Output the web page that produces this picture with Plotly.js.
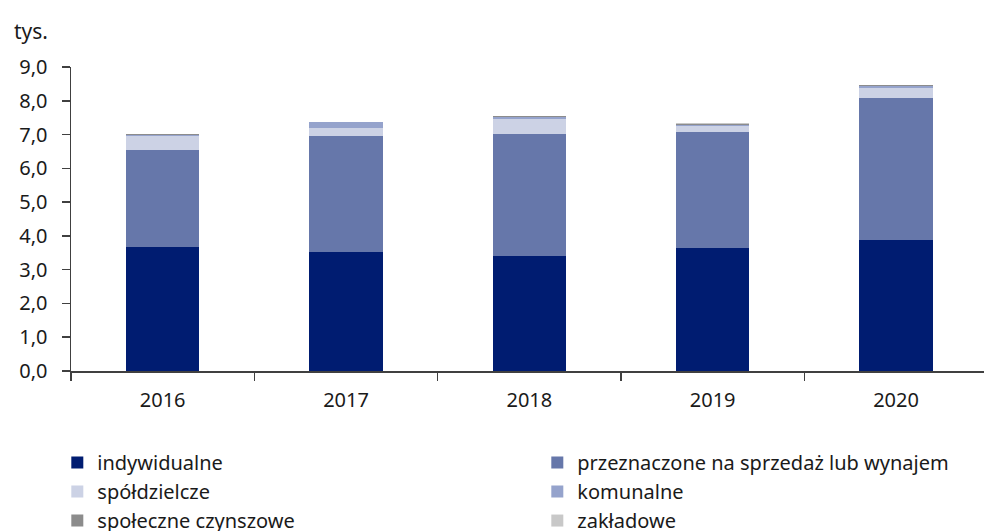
<!DOCTYPE html>
<html>
<head>
<meta charset="utf-8">
<script src="https://cdn.plot.ly/plotly-3.0.1.min.js"></script>
<style>html,body{margin:0;padding:0;background:#fff;}#chart{width:984px;height:531px;}</style>
</head>
<body>
<div id="chart"></div>
<script>
var years = ['2016', '2017', '2018', '2019', '2020'];
var indywidualne = [3.68, 3.53, 3.40, 3.64, 3.88];
var przeznaczone = [2.86, 3.44, 3.63, 3.44, 4.21];
var spoldzielcze = [0.43, 0.22, 0.42, 0.17, 0.30];
var komunalne = [0.01, 0.17, 0.08, 0.02, 0.05];
var spoleczne = [0.04, 0.01, 0.02, 0.05, 0.03];
var zakladowe = [0.01, 0.01, 0.01, 0.01, 0.01];
var yTicks = [0, 1, 2, 3, 4, 5, 6, 7, 8, 9];

var seriesNames = ['indywidualne', 'przeznaczone na sprzedaż lub wynajem', 'spółdzielcze', 'komunalne', 'społeczne czynszowe', 'zakładowe'];
var seriesValues = [indywidualne, przeznaczone, spoldzielcze, komunalne, spoleczne, zakladowe];
var seriesColors = ['#001C71', '#6677AA', '#CCD2E5', '#95A3CC', '#8C8C8C', '#C8C8C8'];

var font = 'Noto Sans, Open Sans, sans-serif';
var traces = seriesNames.map(function (n, i) {
  return {
    type: 'bar', name: n, x: years, y: seriesValues[i],
    marker: {color: seriesColors[i], line: {width: 0}},
    hoverinfo: 'skip'
  };
});

var layout = {
  width: 984, height: 531,
  margin: {l: 71, r: 0, t: 67, b: 160, autoexpand: false},
  barmode: 'stack', bargap: 0.6,
  paper_bgcolor: '#fff', plot_bgcolor: '#fff',
  font: {family: font, size: 20, color: '#1a1a1a'},
  showlegend: true,
  xaxis: {
    type: 'category', range: [-0.5, 4.48],
    showline: true, linecolor: '#404040', linewidth: 1.5,
    ticks: 'outside', tickson: 'boundaries', ticklen: 8, tickcolor: '#404040', tickwidth: 1.5,
    ticklabelstandoff: 10,
    showgrid: false, zeroline: false,
    tickfont: {family: font, size: 20, color: '#1a1a1a'}
  },
  yaxis: {
    range: [0, 9], tickvals: yTicks, tickformat: '.1f',
    showline: true, linecolor: '#404040', linewidth: 1.5,
    ticks: 'outside', ticklen: 8, tickcolor: '#404040', tickwidth: 1.5,
    ticklabelstandoff: 10,
    showgrid: false, zeroline: false,
    tickfont: {family: font, size: 20, color: '#1a1a1a'}
  },
  separators: ', ',
  legend: {
    orientation: 'h', x: -0.015, xanchor: 'left', y: -0.237, yanchor: 'top',
    entrywidth: 435, entrywidthmode: 'pixels', traceorder: 'normal',
    font: {family: font, size: 20, color: '#1a1a1a'},
    bgcolor: 'rgba(0,0,0,0)', itemclick: false
  },
  annotations: [{
    text: 'tys.', xref: 'paper', yref: 'paper', x: -0.065, y: 1.12,
    xanchor: 'left', yanchor: 'middle', showarrow: false,
    font: {family: font, size: 21, color: '#1a1a1a'}
  }]
};

Plotly.newPlot('chart', traces, layout, {displayModeBar: false, staticPlot: true});
</script>
</body>
</html>
